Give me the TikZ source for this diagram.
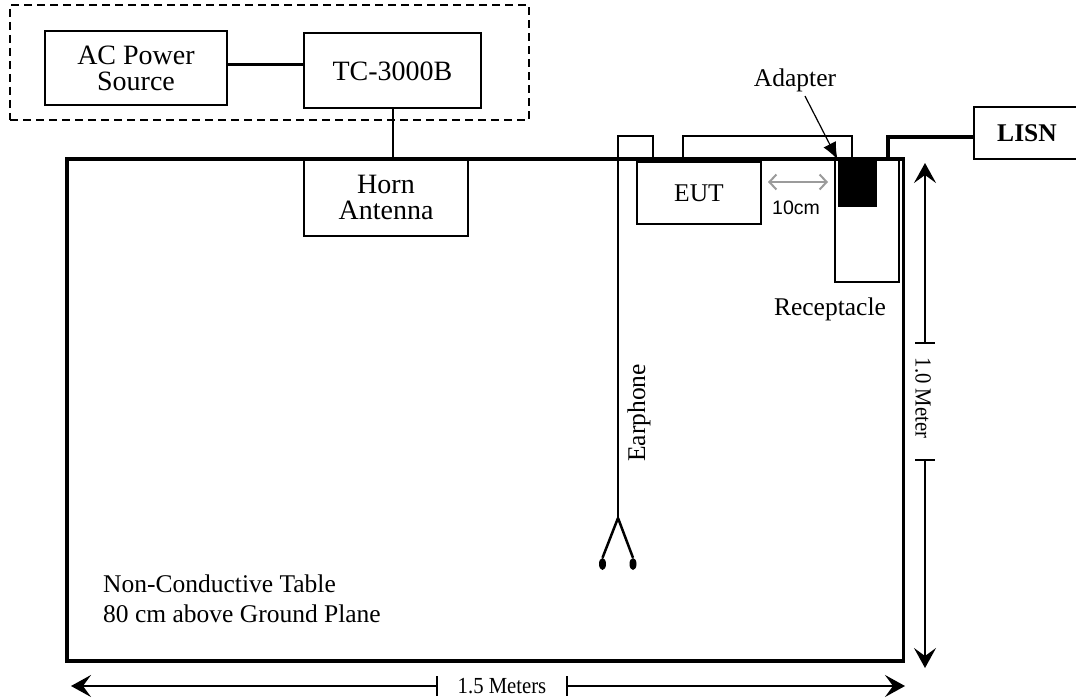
\documentclass[tikz,border=0pt]{standalone}
\usepackage{fontspec}
\setmainfont{Liberation Serif}
\newfontfamily\arialfnt{Liberation Sans}
\newfontfamily\condfnt[FakeStretch=0.9]{Liberation Serif}
\usetikzlibrary{arrows.meta,shapes.geometric}
\definecolor{arrowgray}{RGB}{155,155,155}
\begin{document}
\begin{tikzpicture}[x=1pt,y=-1pt,
  thinline/.style={line width=2pt},
  heavy/.style={line width=3.5pt},
  box/.style={draw, line width=2pt, inner sep=0pt, outer sep=0pt, align=center},
  bigtxt/.style={font=\fontsize{28}{26}\selectfont},
  medtxt/.style={font=\fontsize{25.5}{28}\selectfont},
  dimtxt/.style={font=\condfnt\fontsize{23}{25}\selectfont},
  dimtip/.style={-{Stealth[length=20pt,width=22pt,inset=8pt]}},
  dimline/.style={line width=2pt}
]
\useasboundingbox (0,0) rectangle (1076,698);

% dashed group
\node[draw, dash pattern=on 8pt off 5pt, line width=2pt, inner sep=0pt,
      minimum width=519pt, minimum height=115pt] (group) at (269.5,62.5) {};
\node[box, bigtxt, minimum width=182.5pt, minimum height=74pt] (ac) at (136,68) {AC Power\\Source};
\node[box, bigtxt, minimum width=177pt, minimum height=75pt] (tc) at (392.5,71) {TC-3000B};

% table
\node[box, line width=3.5pt, minimum width=836.5pt, minimum height=502pt] (table) at (485.25,410) {};

% horn antenna
\node[box, bigtxt, minimum width=164pt, minimum height=77pt] (horn) at (386,197.5) {Horn\\Antenna};

% connections top
\draw[heavy] ([yshift=3.6pt]ac.east) -- ([yshift=3.6pt]ac.east -| tc.west);
\draw[thinline] (tc.south) -- (tc.south |- table.north);

% EUT, adapter, receptacle
\node[box, medtxt, minimum width=124pt, minimum height=62pt] (eut) at (699,193) {EUT};
\node[box, minimum width=64pt, minimum height=122pt] (recept) at (867,220.5) {};
\node[draw, fill=black, line width=1pt, inner sep=0pt, minimum width=38pt, minimum height=46pt] (adapter) at (857,183) {};

% adapter cable
\coordinate (cabA) at (683,162);
\coordinate (cabB) at (852,136);
\coordinate (cabC) at (852,159);
\draw[thinline] (cabA) |- (cabB) -- (cabC);

% earphone
\coordinate (earTopL) at (618,136);
\coordinate (earR) at (653,159);
\coordinate (fork) at (618,518);
\node[fill=black, ellipse, inner sep=0pt, minimum width=7pt, minimum height=12pt] (budL) at (602.5,564) {};
\node[fill=black, ellipse, inner sep=0pt, minimum width=7pt, minimum height=12pt] (budR) at (633,564) {};
\draw[thinline] (earR) |- (earTopL) -- (fork);
\draw[line width=2.5pt] (fork) -- (budL.north);
\draw[line width=2.5pt] (fork) -- (budR.north);
\node[medtxt, rotate=90] (earlbl) at (639,413) {Earphone};

% LISN
\node[box, font=\bfseries\fontsize{25.5}{28}\selectfont, minimum width=106pt, minimum height=52pt] (lisn) at (1027,133) {LISN};
\coordinate (lisnA) at (888,159);
\draw[heavy] (lisnA) |- ([yshift=-4pt]lisn.west);

% table top line (redrawn heavy)
\draw[heavy] (table.north west) -- (table.north east);

% adapter label & arrow
\node[medtxt] (adlbl) at (795,80) {Adapter};
\draw[line width=1.2pt, -{Latex[length=17pt,width=14pt]}] ([xshift=10pt,yshift=-1pt]adlbl.south) -- (adapter.north west);

% 10cm
\coordinate (gA) at (768,182);
\coordinate (gB) at (828,182);
\draw[arrowgray, line width=2pt, {Straight Barb[length=7pt,width=15pt]}-{Straight Barb[length=7pt,width=15pt]}] (gA) -- (gB);
\node[font=\arialfnt\fontsize{19.5}{22}\selectfont] (tencm) at (796,208) {10cm};

% receptacle label
\node[medtxt] (reclbl) at (830,309) {Receptacle};

% table label
\node[medtxt, anchor=base west, inner sep=0pt] (tbl1) at (103,592) {Non-Conductive Table};
\node[medtxt, anchor=base west, inner sep=0pt] (tbl2) at (103,622) {80 cm above Ground Plane};

% vertical dimension
\coordinate (vtop) at (925,163);
\coordinate (vt1) at (925,343);
\coordinate (vt2) at (925,460);
\coordinate (vbot) at (925,668);
\draw[dimline, dimtip] (vt1) -- (vtop);
\draw[dimline, dimtip] (vt2) -- (vbot);
\draw[dimline] ([xshift=-10pt]vt1) -- ([xshift=10pt]vt1);
\draw[dimline] ([xshift=-10pt]vt2) -- ([xshift=10pt]vt2);
\node[dimtxt, rotate=-90] (vlbl) at (923,398) {1.0 Meter};

% horizontal dimension
\coordinate (hleft) at (71,686);
\coordinate (ht1) at (437,686);
\coordinate (ht2) at (567,686);
\coordinate (hright) at (905,686);
\draw[dimline, dimtip] (ht1) -- (hleft);
\draw[dimline, dimtip] (ht2) -- (hright);
\draw[dimline] ([yshift=10pt]ht1) -- ([yshift=-10pt]ht1);
\draw[dimline] ([yshift=10pt]ht2) -- ([yshift=-10pt]ht2);
\node[dimtxt] (hlbl) at (502,686) {1.5 Meters};
\end{tikzpicture}
\end{document}
